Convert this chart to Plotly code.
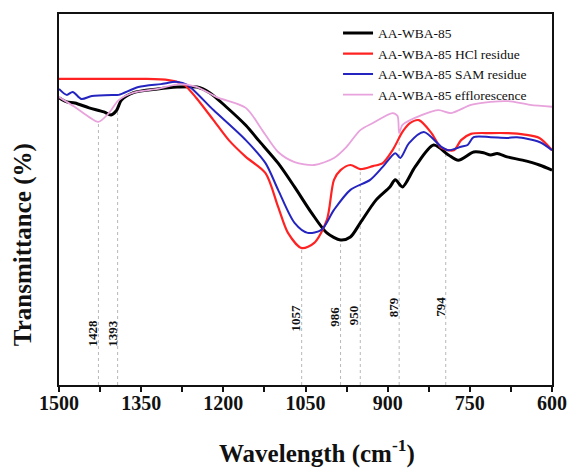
import numpy as np
import plotly.graph_objects as go

# FTIR spectra (wavenumber in cm-1, transmittance in arbitrary %)
wn_black = [1500, 1486, 1471, 1445, 1418, 1405, 1395, 1386, 1364, 1320, 1284, 1248, 1225, 1195, 1159, 1136,
            1100, 1070, 1039, 1011, 986, 968, 950, 921, 896, 886, 873, 850, 816, 789, 771, 743, 725, 712,
            700, 682, 654, 623, 600]
t_black = [77.4, 76.3, 76.0, 74.7, 73.6, 72.8, 74.0, 76.8, 78.8, 79.8, 80.3, 80.3, 78.8, 75.0, 70.0, 66.0,
           59.8, 53.4, 46.4, 41.0, 39.1, 39.9, 43.7, 49.9, 53.4, 55.3, 53.4, 58.8, 64.7, 62.0, 60.6, 62.8, 62.6, 62.0,
           62.4, 61.5, 60.6, 59.3, 57.9]

wn_red = [1500, 1400, 1340, 1300, 1280, 1271, 1250, 1218, 1190, 1159, 1123, 1100, 1082, 1057, 1034, 1011,
          998, 986, 968, 950, 927, 909, 891, 873, 860, 843, 820, 802, 779, 766, 748, 712, 682, 650, 623, 600]
t_red = [82.5, 82.5, 82.5, 82.2, 81.5, 80.9, 77.5, 71.4, 66.0, 61.5, 57.1, 48.0, 41.0, 36.9, 38.3, 44.5,
         55.3, 57.9, 59.3, 58.2, 59.0, 59.8, 63.3, 68.2, 70.5, 71.4, 67.9, 63.9, 63.3, 66.0, 67.7, 67.9, 67.9, 67.5, 66.6, 63.3]

wn_blue = [1500, 1486, 1475, 1459, 1440, 1400, 1391, 1355, 1314, 1284, 1266, 1218, 1159, 1123, 1100, 1070,
           1046, 1021, 998, 968, 932, 909, 886, 877, 861, 834, 802, 789, 766, 754, 743, 712, 682, 664, 623, 600]
t_blue = [79.8, 78.2, 79.0, 77.1, 77.9, 78.2, 78.2, 80.3, 81.1, 81.7, 80.9, 74.1, 66.0, 59.8, 52.6, 43.7,
          41.0, 41.8, 47.2, 52.6, 55.3, 58.8, 62.5, 61.2, 65.2, 68.2, 64.2, 63.3, 64.2, 64.7, 66.8, 66.8, 66.6, 66.8, 65.5, 63.3]

wn_pink = [1500, 1471, 1445, 1428, 1409, 1391, 1364, 1320, 1279, 1248, 1212, 1159, 1129, 1100, 1070, 1034,
           998, 975, 950, 927, 891, 882, 879, 873, 837, 807, 784, 748, 712, 680, 640, 600]
t_pink = [77.6, 74.9, 72.2, 70.9, 73.3, 76.8, 78.8, 79.8, 81.1, 80.3, 77.6, 74.7, 68.7, 62.8, 60.1, 59.3,
          61.2, 64.2, 68.7, 70.6, 73.3, 72.5, 67.9, 70.1, 72.8, 74.1, 73.3, 75.5, 76.3, 76.5, 75.5, 75.0]

# Axis ticks
x_ticks = [1500, 1350, 1200, 1050, 900, 750, 600]
x_minor = [1425, 1275, 1125, 975, 825, 675]

# Marked absorption bands and the spectrum each guide line drops from
band_wn = [1428, 1393, 1057, 986, 950, 879, 794]
band_src = ["pink", "black", "red", "black", "red", "pink", "blue"]
band_label_t = [14.0, 14.0, 18.1, 18.3, 18.9, 21.0, 21.0]

series = {
    "black": (wn_black, t_black, "AA-WBA-85", "#000000", 3.0),
    "red": (wn_red, t_red, "AA-WBA-85 HCl residue", "#ff2222", 2.2),
    "blue": (wn_blue, t_blue, "AA-WBA-85 SAM residue", "#2424c0", 2.0),
    "pink": (wn_pink, t_pink, "AA-WBA-85 efflorescence", "#e8a2dc", 1.8),
}

FONT = "Liberation Serif, Times New Roman, serif"

fig = go.Figure()
for key in ["black", "red", "blue", "pink"]:
    wn, t, name, color, w = series[key]
    fig.add_trace(go.Scatter(x=wn, y=t, mode="lines", name=name,
                             line=dict(color=color, width=w, shape="spline", smoothing=0.8)))

for wn0, src, lt in zip(band_wn, band_src, band_label_t):
    wn, t = series[src][0], series[src][1]
    top = float(np.interp(wn0, wn[::-1], t[::-1]))
    fig.add_shape(type="line", x0=wn0, x1=wn0, y0=0, y1=top, xref="x", yref="y",
                  line=dict(color="#b8b8b8", width=1, dash="dot"), layer="below")
    fig.add_annotation(x=wn0, y=lt, xref="x", yref="y", text="<b>%d</b>" % wn0, textangle=-90,
                       showarrow=False, xshift=-6, font=dict(family=FONT, size=13, color="#111"))

fig.add_annotation(x=0.524, y=-0.18, xref="paper", yref="paper", xanchor="center", yanchor="middle",
                   text="<b>Wavelength (cm<sup>-1</sup>)</b>", showarrow=False,
                   font=dict(family=FONT, size=25, color="#111"))
fig.add_annotation(x=-0.073, y=0.377, xref="paper", yref="paper", xanchor="center", yanchor="middle",
                   text="<b>Transmittance (%)</b>", textangle=-90, showarrow=False,
                   font=dict(family=FONT, size=25, color="#111"))

fig.update_layout(
    width=579, height=468,
    margin=dict(l=59, r=16, t=14, b=83),
    paper_bgcolor="white", plot_bgcolor="white",
    font=dict(family=FONT, color="#111"),
    showlegend=True,
    legend=dict(x=0.566, y=0.99, xanchor="left", yanchor="top", bgcolor="rgba(0,0,0,0)",
                font=dict(family=FONT, size=13.5), itemwidth=30, tracegroupgap=0),
    xaxis=dict(range=[1500, 600], tickvals=x_ticks, ticktext=["<b>%d</b>" % v for v in x_ticks],
               ticks="outside", ticklen=5, tickwidth=1.5, tickcolor="#111",
               minor=dict(tickvals=x_minor, ticks="outside", ticklen=5,
                          tickwidth=1.5, tickcolor="#111"),
               showline=True, linecolor="#111", linewidth=2, mirror=True,
               showgrid=False, zeroline=False,
               tickfont=dict(family=FONT, size=20), ticklabelstandoff=-6),
    yaxis=dict(range=[0, 100], showticklabels=False, ticks="",
               showline=True, linecolor="#111", linewidth=2, mirror=True,
               showgrid=False, zeroline=False),
)

fig.write_html("out.html")
